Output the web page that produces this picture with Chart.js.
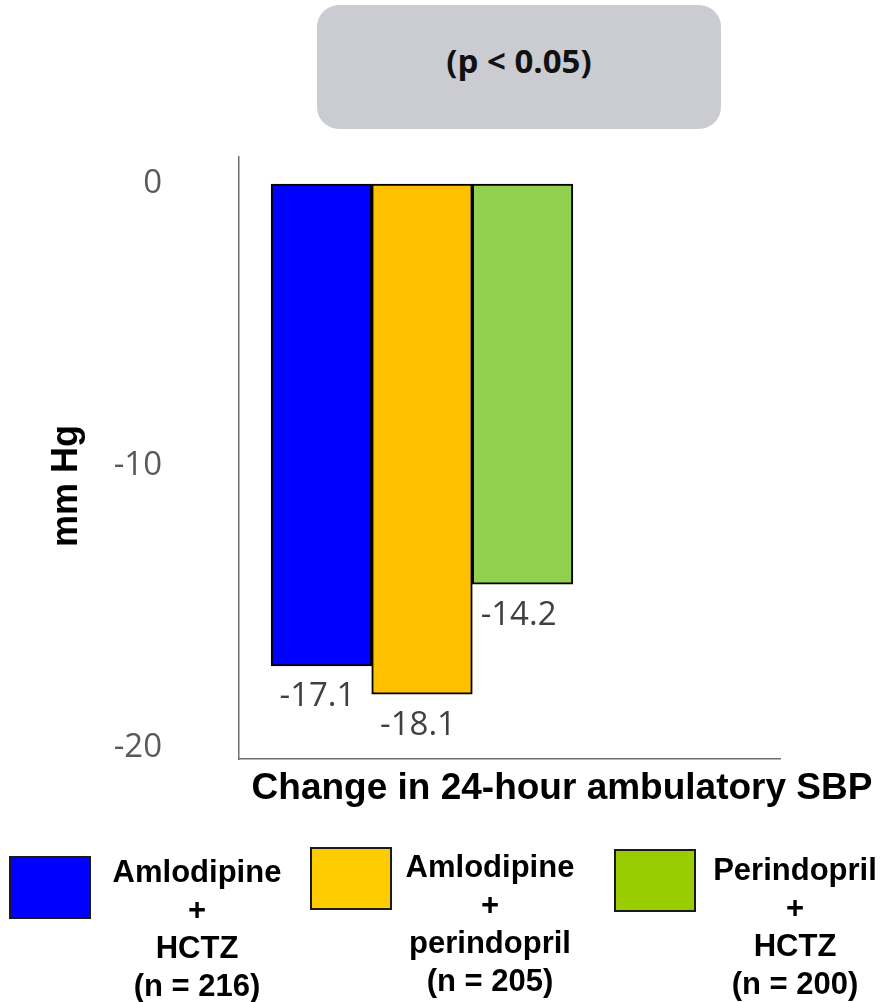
<!DOCTYPE html>
<html>
<head>
<meta charset="utf-8">
<script src="https://cdn.jsdelivr.net/npm/chart.js@4.4.1/dist/chart.umd.min.js"></script>
<style>
  body { margin: 0; background: #fff; }
  #wrap { position: relative; width: 888px; height: 1002px; overflow: hidden; }
  #chart { position: absolute; left: 0; top: 0; }
  #pbox {
    position: absolute; left: 317px; top: 5px; width: 404px; height: 124px;
    background: #cbccd1; border-radius: 22px;
    font: bold 33px "Open Sans", sans-serif; color: #111;
    text-align: center; line-height: 112px;
  }
  .atitle { position: absolute; font: bold 37px "Liberation Sans", Arial, sans-serif; color: #000; white-space: nowrap; }
  #ytitle { left: -35px; top: 466px; width: 200px; height: 40px; line-height: 40px; text-align: center; transform: rotate(-90deg); font-size: 36px; }
  #xtitle { left: 212px; top: 766px; width: 700px; text-align: center; }
  .lg { position: absolute; }
  .lg .box { position: absolute; border: 2px solid #1a1a1a; box-sizing: border-box; }
  .lg .txt { position: absolute; width: 240px; text-align: center; font: bold 31px "Liberation Sans", Arial, sans-serif; line-height: 38px; color: #000; }
</style>
</head>
<body>
<div id="wrap">
  <canvas id="chart" width="888" height="1002"></canvas>
  <div id="pbox">(p &lt; 0.05)</div>
  <div class="atitle" id="ytitle">mm Hg</div>
  <div class="atitle" id="xtitle">Change in 24-hour ambulatory SBP</div>
  <div id="legend"></div>
</div>
<script>
var groups = ["Amlodipine + HCTZ", "Amlodipine + perindopril", "Perindopril + HCTZ"];
var sbpChange = [-17.1, -18.1, -14.2];
var barColors = ["#0000ff", "#ffc000", "#92d050"];
var legendColors = ["#0000ff", "#ffcc00", "#99cc00"];
var legendLines = [
	["Amlodipine", "+", "HCTZ", "(n = 216)"],
	["Amlodipine", "+", "perindopril", "(n = 205)"],
	["Perindopril", "+", "HCTZ", "(n = 200)"]
];
var yTicks = [0, -10, -20];

// legend layout (box left/top, text centre x / top)
var legendPos = [
	{ bx: 9, by: 856, tx: 197, ty: 853 },
	{ bx: 310, by: 847, tx: 490, ty: 848 },
	{ bx: 614, by: 849, tx: 795, ty: 851 }
];

var legend = document.getElementById("legend");
legendLines.forEach(function(lines, i) {
	var p = legendPos[i];
	var item = document.createElement("div");
	item.className = "lg";
	var box = document.createElement("div");
	box.className = "box";
	box.style.cssText = "left:" + p.bx + "px;top:" + p.by + "px;width:82px;height:63px;background:" + legendColors[i];
	var txt = document.createElement("div");
	txt.className = "txt";
	txt.style.left = (p.tx - 120) + "px";
	txt.style.top = p.ty + "px";
	txt.innerHTML = lines.join("<br>");
	item.appendChild(box);
	item.appendChild(txt);
	legend.appendChild(item);
});

var valueLabels = {
	id : 'valueLabels',
	afterDatasetsDraw : function(chart) {
		var ctx = chart.ctx;
		var meta = chart.getDatasetMeta(0);
		ctx.save();
		ctx.font = '33px "Open Sans"';
		ctx.fillStyle = '#404040';
		ctx.textAlign = 'center';
		ctx.textBaseline = 'middle';
		meta.data.forEach(function(bar, i) {
			ctx.fillText(sbpChange[i].toFixed(1), bar.x - 4, bar.y + 31);
		});
		ctx.restore();
	}
};

window.onload = function() {
	var ctx = document.getElementById("chart").getContext("2d");
	window.myBar = new Chart(ctx, {
		type : 'bar',
		data : {
			labels : groups,
			datasets : [ {
				label : "Change in 24-hour ambulatory SBP",
				data : sbpChange.map(function(v, i) { return { x : i + 1, y : v }; }),
				backgroundColor : barColors,
				borderColor : '#000',
				borderWidth : 2,
				borderSkipped : false,
				barPercentage : 1,
				categoryPercentage : 1
			} ]
		},
		options : {
			responsive : false,
			animation : false,
			layout : { padding : { top : 157, right : 108, left : 0, bottom : 0 } },
			plugins : {
				legend : { display : false },
				tooltip : { enabled : false }
			},
			scales : {
				x : {
					type : 'linear',
					min : 0.18,
					max : 5.56,
					offset : false,
					grid : { display : false, offset : false },
					border : { display : true, color : '#6e6e6e', width : 1.5 },
					ticks : { display : false },
					afterBuildTicks : function(s) {
						s.ticks = groups.map(function(g, i) { return { value : i + 1 }; });
					},
					afterFit : function(s) { s.height = 243; }
				},
				y : {
					min : -20.4,
					max : 0.96,
					grid : { display : false },
					border : { display : true, color : '#6e6e6e', width : 1.5 },
					ticks : {
						font : { family : 'Open Sans', size : 33 },
						color : '#595959',
						padding : 69
					},
					afterBuildTicks : function(s) {
						s.ticks = yTicks.map(function(v) { return { value : v }; });
					},
					afterFit : function(s) { s.width = 239; }
				}
			}
		},
		plugins : [ valueLabels ]
	});
};
</script>
</body>
</html>
